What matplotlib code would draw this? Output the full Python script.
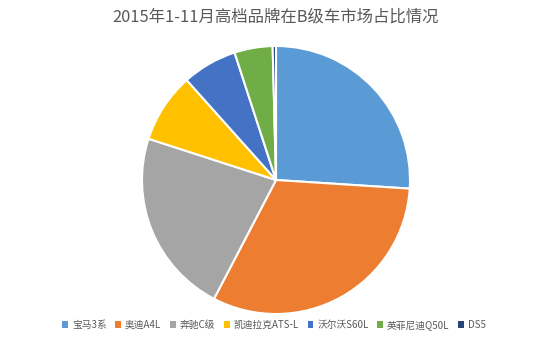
import matplotlib
matplotlib.use("Agg")
import matplotlib.pyplot as plt
from matplotlib.patches import Patch

plt.rcParams['font.family'] = ['Noto Sans CJK SC', 'DejaVu Sans']

labels = ['宝马3系', '奥迪A4L', '奔驰C级', '凯迪拉克ATS-L', '沃尔沃S60L', '英菲尼迪Q50L', 'DS5']
values = [26.0, 31.6, 22.3, 8.4, 6.6, 4.6, 0.4]
colors = ['#5B9BD5', '#ED7D31', '#A5A5A5', '#FFC000', '#4472C4', '#70AD47', '#264478']
title = '2015年1-11月高档品牌在B级车市场占比情况'

W, H = 550, 354
fig = plt.figure(figsize=(W/100, H/100), dpi=100)
cx, cy, r = 276, 180, 134
ax = fig.add_axes([(cx - r)/W, (H - cy - r)/H, 2*r/W, 2*r/H])
ax.pie(values, colors=colors, startangle=90, counterclock=False,
       wedgeprops=dict(edgecolor='white', linewidth=1.5))
ax.set_xlim(-1, 1); ax.set_ylim(-1, 1)
ax.set_aspect('equal')
ax.axis('off')

fig.text(276/W, 1 - 17/H, title, ha='center', va='center', fontsize=11.8, color='#595959')

handles = [Patch(facecolor=c, edgecolor='none') for c in colors]
fig.legend(handles, labels, loc='center', bbox_to_anchor=(274/W, 1 - 325/H), ncol=7,
           frameon=False, fontsize=7, handlelength=0.6, handleheight=0.6,
           handletextpad=0.4, columnspacing=0.9, labelcolor='#595959')

fig.savefig('out.png', dpi=100)
